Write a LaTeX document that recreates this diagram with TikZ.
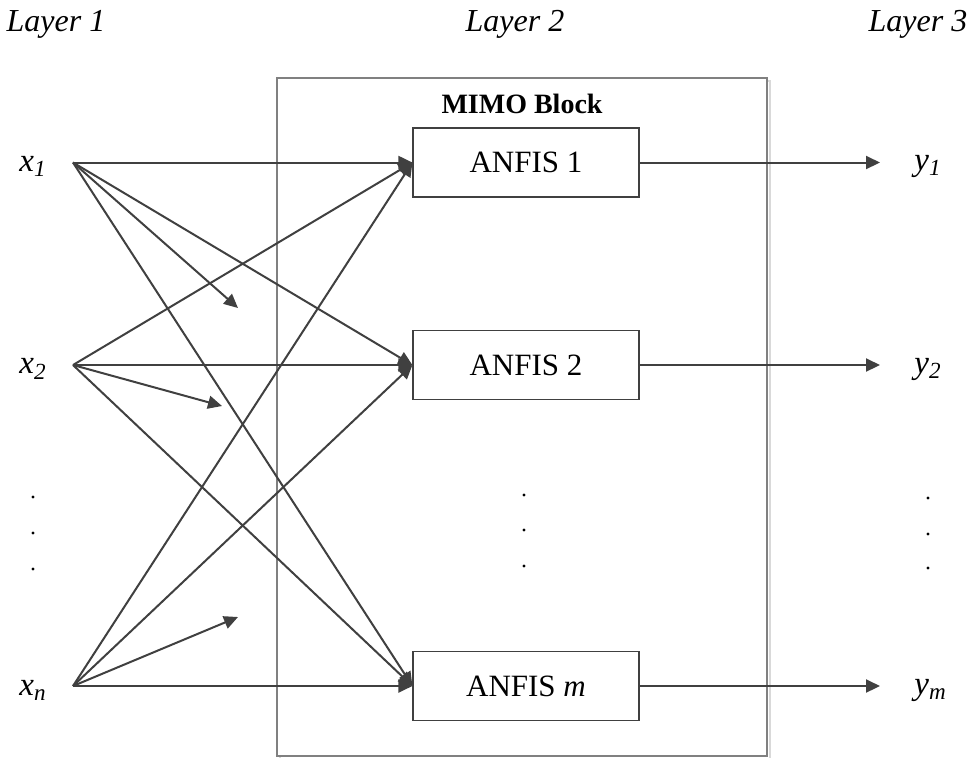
\documentclass[tikz,border=0pt]{standalone}
\usepackage{fontspec}
\setmainfont{Liberation Serif}
\usetikzlibrary{positioning,arrows.meta}

\begin{document}
\begin{tikzpicture}[
  x=0.5pt, y=-0.5pt,
  font=\fontsize{15.5}{18}\selectfont,
  wire/.style={draw=black!75, line width=1pt, -{Triangle[length=7pt, width=6.5pt]}},
  anfis/.style={draw=black!75, line width=0.6pt, fill=white, minimum width=113pt, minimum height=34.5pt, inner sep=0pt},
  lay/.style={font=\fontsize{16}{18}\selectfont\itshape},
  sig/.style={font=\fontsize{16.5}{18}\selectfont\itshape, inner sep=0pt, yshift=-2pt},
  title/.style={font=\fontsize{14}{16}\selectfont\bfseries}]
  \useasboundingbox (0,0) rectangle (967,757);

  % layer titles
  \node[lay] (l1) at (56,24) {Layer 1};
  \node[lay] (l2) at (515,24) {Layer 2};
  \node[lay] (l3) at (918,24) {Layer 3};

  % MIMO block with its light shadow
  \draw[black!15, line width=1.2pt] (280,81) rectangle (770,759);
  \node[draw=black!50, line width=0.6pt, fill=white, minimum width=245pt, minimum height=339pt, inner sep=0pt] (mimo) at (522,417) {};
  \node[title] (mtitle) at (522,104) {MIMO Block};

  % ANFIS units
  \node[anfis] (a1) at (526,162.5) {ANFIS 1};
  \node[anfis] (a2) at (526,365) {ANFIS 2};
  \node[anfis] (am) at (526,686) {ANFIS \textit{m}};

  % inputs
  \coordinate (s1) at (73,162.5);
  \coordinate (s2) at (73,365);
  \coordinate (sn) at (73,686);
  \node[sig, left=13pt of s1] (x1) {x\textsubscript{1}};
  \node[sig, left=13pt of s2] (x2) {x\textsubscript{2}};
  \node[sig, left=13pt of sn] (xn) {x\textsubscript{n}};

  % loose ends towards the hidden units
  \coordinate (t1) at (238,308);
  \coordinate (t2) at (222,406);
  \coordinate (tn) at (238,617);

  % outputs
  \coordinate (o1) at (880,162.5);
  \coordinate (o2) at (880,365);
  \coordinate (om) at (880,686);
  \node[sig, right=17pt of o1] (y1) {y\textsubscript{1}};
  \node[sig, right=17pt of o2] (y2) {y\textsubscript{2}};
  \node[sig, right=17pt of om] (ym) {y\textsubscript{m}};

  \draw[wire] (s1) -- (a1.west);
  \draw[wire] (s1) -- (a2.west);
  \draw[wire] (s1) -- (am.west);
  \draw[wire] (s1) -- (t1);
  \draw[wire] (s2) -- (a1.west);
  \draw[wire] (s2) -- (a2.west);
  \draw[wire] (s2) -- (am.west);
  \draw[wire] (s2) -- (t2);
  \draw[wire] (sn) -- (a1.west);
  \draw[wire] (sn) -- (a2.west);
  \draw[wire] (sn) -- (am.west);
  \draw[wire] (sn) -- (tn);

  \draw[wire] (a1.east) -- (o1);
  \draw[wire] (a2.east) -- (o2);
  \draw[wire] (am.east) -- (om);

  % vertical ellipses
  \fill (33,497) circle[radius=0.8pt] (33,533) circle[radius=0.8pt] (33,569) circle[radius=0.8pt];
  \fill (524,495) circle[radius=0.8pt] (524,530) circle[radius=0.8pt] (524,566) circle[radius=0.8pt];
  \fill (928,498) circle[radius=0.8pt] (928,534) circle[radius=0.8pt] (928,568) circle[radius=0.8pt];
\end{tikzpicture}
\end{document}
